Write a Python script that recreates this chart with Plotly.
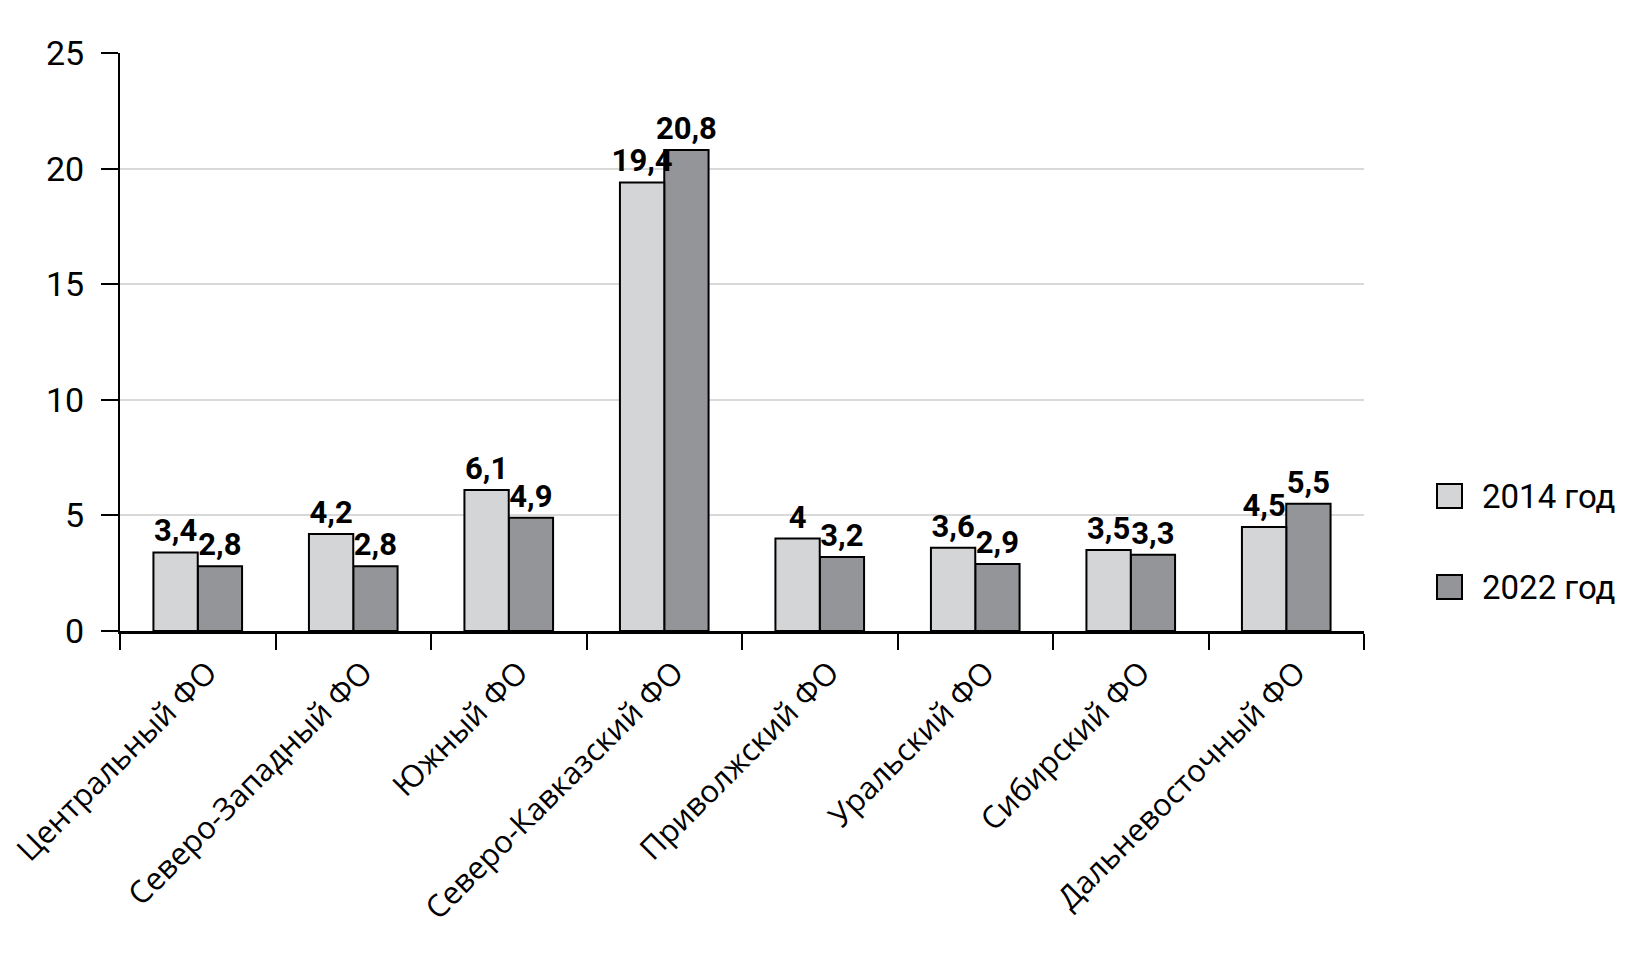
import plotly.graph_objects as go

categories = ["Центральный ФО", "Северо-Западный ФО", "Южный ФО", "Северо-Кавказский ФО",
              "Приволжский ФО", "Уральский ФО", "Сибирский ФО", "Дальневосточный ФО"]
series_names = ["2014 год", "2022 год"]
v2014 = [3.4, 4.2, 6.1, 19.4, 4.0, 3.6, 3.5, 4.5]
v2022 = [2.8, 2.8, 4.9, 20.8, 3.2, 2.9, 3.3, 5.5]
y_ticks = [0, 5, 10, 15, 20, 25]

colors = ["#d4d5d7", "#949599"]
COND = "Roboto, Liberation Sans, sans-serif"
LAB = "Open Sans, Noto Sans, DejaVu Sans, sans-serif"

def fmt(v):
    return f"{v:g}".replace(".", ",")

W, H = 1633, 961
L, R, T, B = 112, 277, 45, 338
pw, ph = W - L - R, H - T - B
BW = 0.285  # bar width in category units

fig = go.Figure()
# draw 2022 first so that the 2014 labels stay on top
order = [(series_names[1], v2022, colors[1], 0.0),
         (series_names[0], v2014, colors[0], -BW)]
for name, vals, col, off in order:
    fig.add_trace(go.Bar(
        x=categories, y=vals, name=name, offset=off, width=BW,
        marker=dict(color=col, line=dict(color="black", width=2)),
        text=[fmt(v) for v in vals], textposition="outside", constraintext="none",
        textfont=dict(family=COND, size=31, color="black", weight="bold"),
        cliponaxis=False, showlegend=False,
    ))

# manual legend with larger boxes
legend_y_px = [488, 579]
for name, col, ypx in zip(series_names, colors, legend_y_px):
    yp = (H - B - ypx) / ph
    fig.add_shape(type="rect", xref="paper", yref="paper",
                  xsizemode="pixel", ysizemode="pixel",
                  xanchor=(1429 - L) / pw, yanchor=yp,
                  x0=0, x1=25, y0=-12, y1=12,
                  fillcolor=col, line=dict(color="black", width=2))
    fig.add_annotation(xref="paper", yref="paper", x=(1472 - L) / pw, y=yp,
                       text=name, showarrow=False, xanchor="left", yanchor="middle",
                       font=dict(family=COND, size=33, color="black"))

fig.update_layout(
    width=W, height=H,
    margin=dict(l=L, r=R, t=T, b=B, autoexpand=False),
    paper_bgcolor="white", plot_bgcolor="white",
    barmode="overlay",
    showlegend=False,
)
fig.update_yaxes(range=[0, 25], tickvals=y_ticks, ticks="outside", ticklen=17,
                 tickwidth=2, tickcolor="black", showline=True, linecolor="black",
                 linewidth=2, showgrid=True, gridcolor="#d9d9d9", gridwidth=2,
                 zeroline=False, tickfont=dict(family=COND, size=34, color="black"),
                 ticklabelstandoff=10)
fig.update_xaxes(ticks="outside", tickson="boundaries", ticklen=16, tickwidth=2,
                 tickcolor="black", showline=True, linecolor="black", linewidth=2.5,
                 tickangle=-45, tickfont=dict(family=LAB, size=31, color="black"),
                 ticklabelshift=10, ticklabelstandoff=8,
                 categoryorder="array", categoryarray=categories)

fig.write_html("out.html")
